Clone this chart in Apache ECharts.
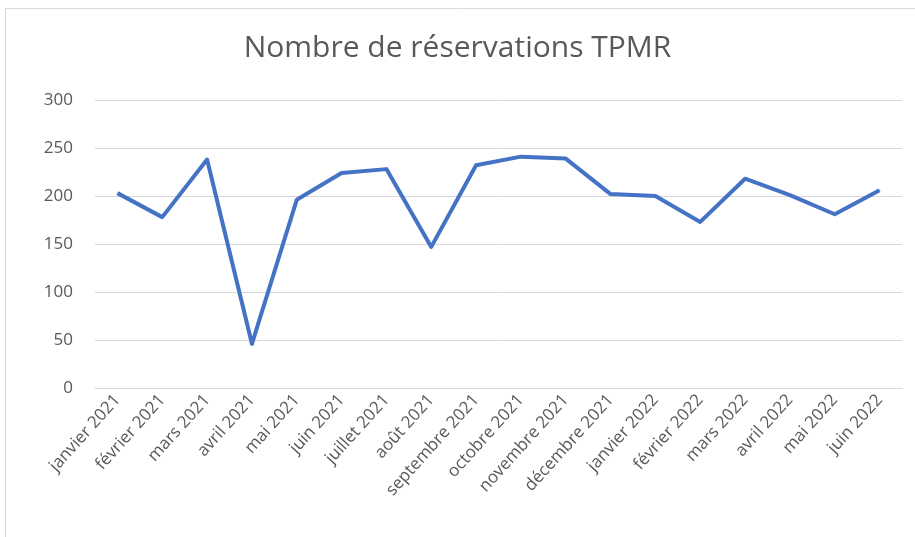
<!DOCTYPE html>
<html>
<head>
<meta charset="utf-8">
<script src="https://cdn.jsdelivr.net/npm/echarts@6/dist/echarts.min.js"></script>
<style>
  html, body { margin: 0; padding: 0; background: #fff; }
  #main { width: 915px; height: 537px; }
</style>
</head>
<body>
<div id="main"></div>
<script>
const months = [
  'janvier 2021', 'février 2021', 'mars 2021', 'avril 2021', 'mai 2021', 'juin 2021',
  'juillet 2021', 'août 2021', 'septembre 2021', 'octobre 2021', 'novembre 2021', 'décembre 2021',
  'janvier 2022', 'février 2022', 'mars 2022', 'avril 2022', 'mai 2022', 'juin 2022'
]
const reservations = [203, 178, 238, 46, 196, 224, 228, 147, 232, 241, 239, 202, 200, 173, 218, 201, 181, 206]

const font = 'Open Sans'
const grey = '#595959'

let myChart = echarts.init(document.getElementById('main'))

myChart.setOption({
    animation: false,
    backgroundColor: '#fff',
    graphic: [{
        type: 'rect',
        shape: { x: 5.5, y: 8.5, width: 920, height: 540 },
        style: { fill: 'none', stroke: '#d9d9d9', lineWidth: 1 }
    }],
    title: {
        text: 'Nombre de réservations TPMR',
        left: 'center',
        top: 28,
        textStyle: { fontFamily: font, fontSize: 30, fontWeight: 'normal', color: grey }
    },
    grid: { left: 95, right: 13, top: 100, bottom: 149 },
    xAxis: {
        type: 'category',
        data: months,
        axisLine: { lineStyle: { color: '#d9d9d9', width: 1 } },
        axisTick: { show: false },
        axisLabel: {
            interval: 0,
            rotate: 48,
            margin: 9,
            fontFamily: font,
            fontSize: 17,
            color: grey
        }
    },
    yAxis: {
        type: 'value',
        min: 0,
        max: 300,
        interval: 50,
        axisLine: { show: false },
        axisTick: { show: false },
        axisLabel: { margin: 22, fontFamily: font, fontSize: 17, color: grey },
        splitLine: { lineStyle: { color: '#d9d9d9', width: 1 } }
    },
    series: [{
        name: 'Nombre de réservations TPMR',
        type: 'line',
        data: reservations,
        showSymbol: false,
        lineStyle: { color: '#4472C4', width: 4, join: 'round' }
    }]
})
</script>
</body>
</html>
